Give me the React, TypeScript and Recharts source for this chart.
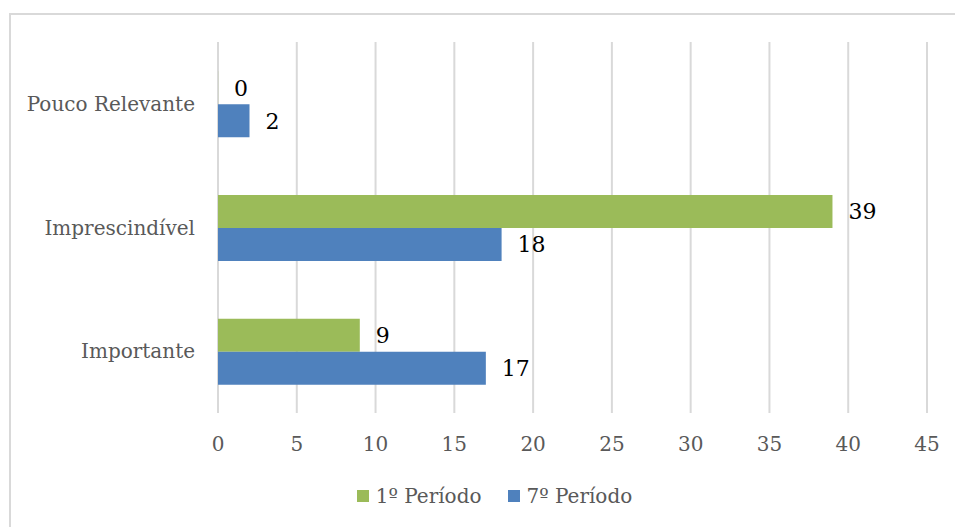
import React from 'react';
import {
  BarChart,
  Bar,
  XAxis,
  YAxis,
  CartesianGrid,
  LabelList,
  Legend,
} from 'recharts';

// Categories, top to bottom as drawn
const categories = ['Pouco Relevante', 'Imprescindível', 'Importante'];
// 1º Período values
const firstPeriod = [0, 39, 9];
// 7º Período values
const seventhPeriod = [2, 18, 17];
// X axis ticks
const xTicks = [0, 5, 10, 15, 20, 25, 30, 35, 40, 45];

const series = [
  { key: 'p1', name: '1º Período', color: '#9BBB59' },
  { key: 'p7', name: '7º Período', color: '#4F81BD' },
];

const data = categories.map((name, i) => ({
  name,
  p1: firstPeriod[i],
  p7: seventhPeriod[i],
}));

const FONT = '"DejaVu Serif", serif';

// legend is centred on the original (wider) chart frame, so it sits a bit right
const CustomLegend = () => (
  <div
    style={{
      display: 'flex',
      justifyContent: 'center',
      alignItems: 'center',
      height: 30,
      paddingLeft: 62,
      fontFamily: FONT,
      fontSize: 20,
      color: '#595959',
    }}
  >
    {series.map((s, i) => (
      <div
        key={s.key}
        style={{ display: 'flex', alignItems: 'center', marginLeft: i > 0 ? 26 : 0 }}
      >
        <span style={{ width: 12, height: 12, backgroundColor: s.color, marginRight: 7 }}></span>
        <span>{s.name}</span>
      </div>
    ))}
  </div>
);

const App = () => {
  return (
    <div style={{ position: 'relative', width: 955, height: 527, background: '#fff' }}>
      <style>{`body { margin: 0; }`}</style>
      {/* chart frame */}
      <div
        style={{
          position: 'absolute',
          left: 9,
          top: 13,
          width: 946,
          height: 514,
          borderTop: '2px solid #D9D9D9',
          borderLeft: '2px solid #D9D9D9',
          boxSizing: 'border-box',
        }}
      ></div>
      <div style={{ position: 'absolute', left: 0, top: 0 }}>
        <BarChart
          width={955}
          height={527}
          data={data}
          layout="vertical"
          margin={{ top: 42, right: 28, bottom: 16, left: 0 }}
          barCategoryGap="23.7%"
          barGap={0}
        >
          <CartesianGrid horizontal={false} stroke="#D9D9D9" strokeWidth={2} />
          <XAxis
            type="number"
            domain={[0, 45]}
            ticks={xTicks}
            interval={0}
            axisLine={false}
            tickLine={false}
            tickMargin={18}
            height={68}
            tick={{ fill: '#595959', fontSize: 20, fontFamily: FONT }}
          />
          <YAxis
            type="category"
            dataKey="name"
            width={218}
            axisLine={false}
            tickLine={false}
            tickMargin={17}
            tick={{ fill: '#595959', fontSize: 20, fontFamily: FONT }}
          />
          <Legend verticalAlign="bottom" content={<CustomLegend />} />
          {series.map((s) => (
            <Bar
              key={s.key}
              dataKey={s.key}
              name={s.name}
              fill={s.color}
              minPointSize={0.1}
              isAnimationActive={false}
            >
              <LabelList
                dataKey={s.key}
                position="right"
                offset={16}
                fill="#000"
                fontSize={22}
                fontFamily={FONT}
              />
            </Bar>
          ))}
        </BarChart>
      </div>
    </div>
  );
};

export default App;
